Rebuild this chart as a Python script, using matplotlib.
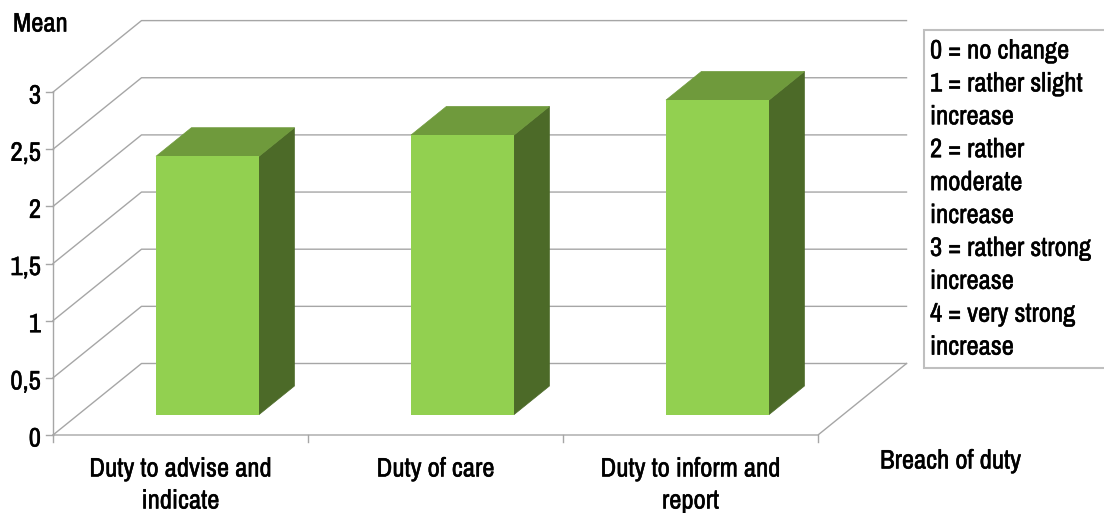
import matplotlib
matplotlib.use('Agg')
import matplotlib.pyplot as plt
import matplotlib.patheffects as pe
from matplotlib.patches import Polygon, Rectangle

plt.rcParams['font.family'] = ['Archivo Narrow', 'Roboto Condensed', 'Liberation Sans', 'DejaVu Sans']

categories = [['Duty to advise and', 'indicate'], ['Duty of care'], ['Duty to inform and', 'report']]
means = [2.26, 2.446, 2.752]
y_ticks = [0, 0.5, 1, 1.5, 2, 2.5, 3]
y_tick_labels = ['0', '0,5', '1', '1,5', '2', '2,5', '3']
legend_lines = ['0 = no change', '1 = rather slight', 'increase', '2 = rather', 'moderate',
                'increase', '3 = rather strong', 'increase', '4 = very strong', 'increase']

# oblique projection of the 3d box, in pixels of the figure
X0, Y0 = 53, 435
CAT_W = 255.0
UNIT = 114.3
DEPTH_X, DEPTH_Y = 88.5, -71.5
BAR_W = 0.404
BAR_FRONT, BAR_BACK = 0.285, 0.685
FS = 19.2
HEAVY = [pe.withStroke(linewidth=0.35, foreground='black')]


def proj(x, v, d=0.0):
    # x in categories, v in data units, d in 0..1 going to the back wall
    return (X0 + x * CAT_W + d * DEPTH_X, Y0 - v * UNIT + d * DEPTH_Y)


def label(x, y, s, ha='left', zorder=5):
    ax.text(x, y, s, ha=ha, va='center', fontsize=FS, color='black', zorder=zorder, path_effects=HEAVY)


fig = plt.figure(figsize=(11.04, 5.13), dpi=100)
ax = fig.add_axes([0, 0, 1, 1])
ax.set_xlim(0, 1104)
ax.set_ylim(513, 0)
ax.axis('off')

n = len(categories)
grid = '#a6a6a6'

# gridlines on side and back wall
for t in y_ticks:
    pts = [proj(0, t), proj(0, t, 1), proj(n, t, 1)]
    ax.plot(*zip(*pts), color=grid, lw=1, zorder=1)

# floor edge and axes
pts = [proj(0, 0), proj(n, 0), proj(n, 0, 1)]
ax.plot(*zip(*pts), color=grid, lw=1, zorder=1)
ax.plot(*zip(proj(0, 0), proj(0, y_ticks[-1])), color=grid, lw=1, zorder=1)

for t, lab in zip(y_ticks, y_tick_labels):
    x, y = proj(0, t)
    ax.plot([x - 7, x], [y, y], color=grid, lw=1, zorder=1)
    label(41, y + 4, lab, ha='right')
for i in range(n + 1):
    x, y = proj(i, 0)
    ax.plot([x, x], [y, y + 7], color=grid, lw=1, zorder=1)

# bars
for i, m in enumerate(means):
    left = i + 0.5 - BAR_W / 2 + 0.007
    right = i + 0.5 + BAR_W / 2 + 0.007
    front = [proj(left, 0, BAR_FRONT), proj(right, 0, BAR_FRONT), proj(right, m, BAR_FRONT), proj(left, m, BAR_FRONT)]
    top = [proj(left, m, BAR_FRONT), proj(right, m, BAR_FRONT), proj(right, m, BAR_BACK), proj(left, m, BAR_BACK)]
    side = [proj(right, 0, BAR_FRONT), proj(right, 0, BAR_BACK), proj(right, m, BAR_BACK), proj(right, m, BAR_FRONT)]
    ax.add_patch(Polygon(side, closed=True, fc='#4c6a28', ec='#4c6a28', lw=0.5, zorder=3))
    ax.add_patch(Polygon(top, closed=True, fc='#6f9a3c', ec='#6f9a3c', lw=0.5, zorder=3))
    ax.add_patch(Polygon(front, closed=True, fc='#92d050', ec='none', zorder=4))

# category labels
for i, lines in enumerate(categories):
    x, _ = proj(i + 0.5, 0)
    for k, line in enumerate(lines):
        label(x, 469 + k * 32, line, ha='center')

label(13, 24, 'Mean')
label(880, 461, 'Breach of duty')

# legend box
ax.add_patch(Rectangle((923.5, 29.5), 190, 338, fc='white', ec='#bfbfbf', lw=1.5, zorder=2))
for k, line in enumerate(legend_lines):
    label(930, 51 + k * 32.9, line)

fig.savefig('out.png', dpi=100)
plt.close(fig)
